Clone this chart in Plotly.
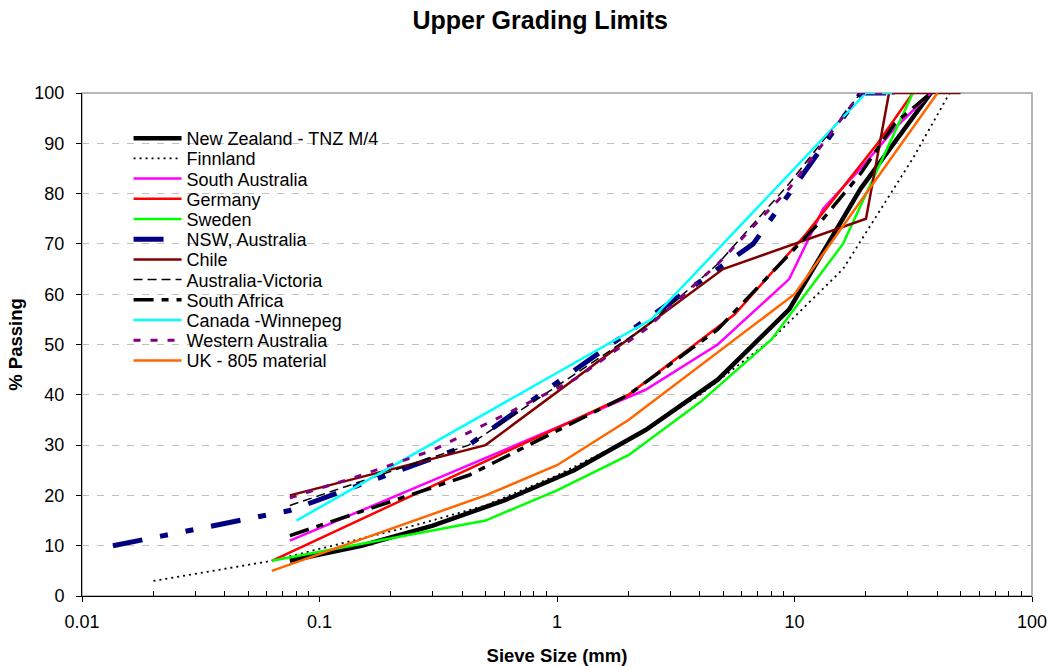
import plotly.graph_objects as go

# ---- data (sieve size mm, % passing) ----
nz_size = [0.075, 0.15, 0.3, 0.6, 1.18, 2.36, 4.75, 9.5, 19, 37.5]
nz_pass = [7, 10, 14, 19, 25, 33, 43, 57, 81, 100]

fin_size = [0.02, 0.063, 0.125, 0.25, 0.5, 1, 2, 4, 8, 16, 31.5, 45]
fin_pass = [3, 7, 10.5, 14, 18, 24, 31, 40, 51, 65, 87, 100]

sa_size = [0.075, 0.425, 2.36, 4.75, 9.5, 13.2, 19, 26.5, 37.5]
sa_pass = [11, 26, 41, 50, 63, 77, 85, 93, 100]

ger_size = [0.063, 2, 5.6, 11.2, 22.4, 31.5]
ger_pass = [7, 40, 56, 72, 90, 100]

swe_size = [0.063, 0.5, 1, 2, 4, 8, 16, 31.5]
swe_pass = [7, 15, 21, 28, 38.5, 51, 70, 100]

nsw_size = [0.0135, 0.075, 0.425, 4.75, 6.7, 9.5, 19, 26.5]
nsw_pass = [10, 17, 30, 65, 70, 80, 100, 100]

chile_size = [0.075, 0.5, 5, 20, 25, 50]
chile_pass = [20, 30, 65, 75, 100, 100]

vic_size = [0.075, 0.425, 2.36, 4.75, 9.5, 19, 26.5]
vic_pass = [18, 30, 53.5, 66, 82, 100, 100]

saf_size = [0.075, 0.425, 2, 4.75, 13.2, 19, 26.5, 37.5]
saf_pass = [12, 24, 40, 53, 75, 84, 94, 100]

can_size = [0.08, 2.5, 20, 26.5]
can_pass = [15, 55, 100, 100]

wa_size = [0.075, 0.15, 0.3, 0.6, 1.18, 2.36, 4.75, 9.5, 13.2, 19, 26.5]
wa_pass = [19.5, 24, 29, 36, 43, 53, 66, 81, 90, 100, 100]

uk_size = [0.063, 0.5, 1, 2, 10, 40]
uk_pass = [5, 20, 26, 35, 60, 100]

x_ticks = [0.01, 0.1, 1, 10, 100]
x_tick_labels = ["0.01", "0.1", "1", "10", "100"]
y_ticks = [0, 10, 20, 30, 40, 50, 60, 70, 80, 90, 100]

series = [
    ("New Zealand - TNZ M/4", nz_size, nz_pass, dict(color="#000000", width=4.5)),
    ("Finnland", fin_size, fin_pass, dict(color="#000000", width=1.8, dash="2px,4px")),
    ("South Australia", sa_size, sa_pass, dict(color="#FF00FF", width=2.5)),
    ("Germany", ger_size, ger_pass, dict(color="#FF0000", width=2.5)),
    ("Sweden", swe_size, swe_pass, dict(color="#00FF00", width=2.5)),
    ("NSW, Australia", nsw_size, nsw_pass, dict(color="#000080", width=5, dash="30px,18px,8px,18px,8px,18px")),
    ("Chile", chile_size, chile_pass, dict(color="#800000", width=2.5)),
    ("Australia-Victoria", vic_size, vic_pass, dict(color="#000000", width=1.5, dash="9px,5px")),
    ("South Africa", saf_size, saf_pass, dict(color="#000000", width=3.5, dash="20px,8px,7px,8px")),
    ("Canada -Winnepeg", can_size, can_pass, dict(color="#00FFFF", width=2.5)),
    ("Western Australia", wa_size, wa_pass, dict(color="#800080", width=3, dash="7px,10px")),
    ("UK - 805 material", uk_size, uk_pass, dict(color="#FF6600", width=2.5)),
]

FONT = "Liberation Sans, Arial, sans-serif"
PLOT_TOP, PLOT_BOTTOM = 93, 596
LEG_FIRST, LEG_STEP = 138.5, 20.2

fig = go.Figure()
legends = {}
for i, (name, xs, ys, line) in enumerate(series):
    key = "legend" if i == 0 else f"legend{i + 1}"
    fig.add_trace(go.Scatter(x=xs, y=ys, mode="lines", name=name, line=line,
                             legend=key, showlegend=True))
    yc = LEG_FIRST + i * LEG_STEP
    legends[key] = dict(x=0.049, y=(PLOT_BOTTOM - yc) / (PLOT_BOTTOM - PLOT_TOP),
                        xanchor="left", yanchor="middle",
                        bgcolor="rgba(0,0,0,0)", borderwidth=0,
                        font=dict(size=18, family=FONT), itemwidth=48)

minor_vals = []
for dec in [0.01, 0.1, 1, 10]:
    for k in range(2, 10):
        minor_vals.append(dec * k)

fig.update_layout(
    width=1051, height=666,
    margin=dict(l=82, r=19, t=PLOT_TOP, b=666 - PLOT_BOTTOM),
    paper_bgcolor="white", plot_bgcolor="white",
    font=dict(family=FONT, size=18, color="black"),
    title=dict(text="<b>Upper Grading Limits</b>", x=0.514, xanchor="center",
               y=0.97, yanchor="middle", font=dict(size=25, family=FONT)),
    showlegend=True,
    xaxis=dict(type="log", range=[-2, 2], tickvals=x_ticks, ticktext=x_tick_labels,
               showgrid=False, showline=True, linecolor="black", linewidth=1,
               ticks="outside", ticklen=5, tickcolor="black", automargin=False,
               ticklabelstandoff=4,
               minor=dict(tickvals=minor_vals, ticks="inside", ticklen=5, tickcolor="black", showgrid=False),
               title=dict(text="<b>Sieve Size (mm)</b>", font=dict(size=18.5), standoff=22),
               zeroline=False),
    yaxis=dict(range=[0, 100], tickvals=y_ticks, showgrid=True, gridcolor="#C0C0C0",
               griddash="7px,8px", gridwidth=1, automargin=False,
               showline=True, linecolor="black", linewidth=1,
               ticks="outside", ticklen=5, tickcolor="black", ticklabelstandoff=8,
               title=dict(text="<b>% Passing</b>", font=dict(size=18.5), standoff=6),
               zeroline=False),
    **legends,
)

# plot-area frame and legend background
fig.add_shape(type="rect", xref="paper", yref="paper", x0=0, x1=1, y0=0, y1=1,
              line=dict(color="#A0A0A0", width=1.5), layer="below")
fig.add_shape(type="rect", xref="paper", yref="paper",
              x0=0.046, x1=0.33,
              y0=(PLOT_BOTTOM - 372) / (PLOT_BOTTOM - PLOT_TOP),
              y1=(PLOT_BOTTOM - 126) / (PLOT_BOTTOM - PLOT_TOP),
              fillcolor="white", line=dict(width=0), layer="between")

fig.write_html("out.html")
